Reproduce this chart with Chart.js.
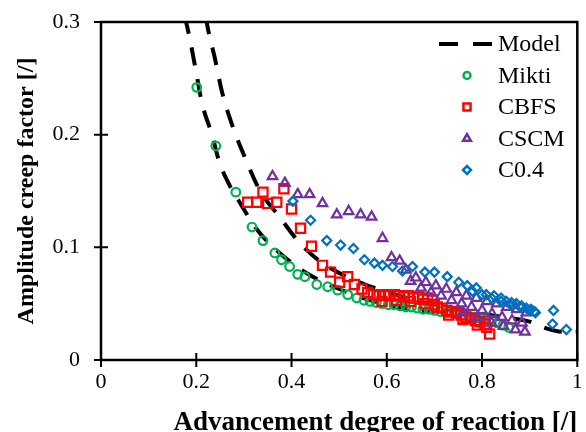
<!DOCTYPE html>
<html>
<head>
<meta charset="utf-8">
<script src="https://cdn.jsdelivr.net/npm/chart.js@4.4.1/dist/chart.umd.min.js"></script>
<style>
  body { margin: 0; background: #fff; }
  #wrap { width: 586px; height: 432px; position: relative; }
</style>
</head>
<body>
<div id="wrap"><canvas id="myChart"></canvas></div>
<script>
// model curve: lower branch, gap (null), upper branch
const modelX = [0.176, 0.187, 0.200, 0.212, 0.233, 0.249, 0.270, 0.291, 0.327, 0.375, 0.432, 0.500, 0.600, 0.700,
  0.70,
  0.220, 0.224, 0.239, 0.254, 0.275, 0.302, 0.333, 0.375, 0.417, 0.465, 0.543, 0.669, 0.750, 0.830, 0.900, 0.935, 0.970, 1.000];
const modelY = [0.305, 0.284, 0.255, 0.228, 0.200, 0.175, 0.155, 0.140, 0.116, 0.095, 0.077, 0.063, 0.049, 0.042,
  null,
  0.305, 0.295, 0.268, 0.238, 0.209, 0.180, 0.151, 0.127, 0.104, 0.086, 0.069, 0.052, 0.045, 0.039, 0.034, 0.028, 0.025, 0.025];

const miktiX = [0.201, 0.241, 0.283, 0.317, 0.340, 0.365, 0.379, 0.396, 0.413, 0.428, 0.453, 0.476, 0.497, 0.518, 0.537,
  0.552, 0.565, 0.578, 0.590, 0.603, 0.615, 0.628, 0.640, 0.652, 0.664, 0.676, 0.688, 0.700, 0.712, 0.724, 0.736,
  0.748, 0.760, 0.772, 0.784, 0.796, 0.808, 0.820, 0.832, 0.844, 0.856];
const miktiY = [0.242, 0.190, 0.149, 0.118, 0.106, 0.095, 0.089, 0.083, 0.076, 0.074, 0.067, 0.065, 0.062, 0.058, 0.055,
  0.053, 0.052, 0.051, 0.050, 0.049, 0.049, 0.048, 0.047, 0.047, 0.046, 0.045, 0.045, 0.044, 0.043, 0.042, 0.042,
  0.041, 0.040, 0.039, 0.038, 0.037, 0.036, 0.035, 0.033, 0.031, 0.029];

const cbfsX = [0.308, 0.327, 0.340, 0.350, 0.369, 0.384, 0.400, 0.419, 0.442, 0.465, 0.482, 0.501, 0.518, 0.532, 0.548,
  0.560, 0.572, 0.584, 0.596, 0.606, 0.616, 0.626, 0.636, 0.646, 0.656, 0.666, 0.676, 0.686, 0.696, 0.706, 0.716,
  0.726, 0.736, 0.746, 0.756, 0.766, 0.776, 0.786, 0.796, 0.806, 0.816,
  0.590, 0.620, 0.650, 0.680, 0.700, 0.730, 0.760, 0.790, 0.810];
const cbfsY = [0.140, 0.140, 0.149, 0.139, 0.140, 0.152, 0.134, 0.117, 0.101, 0.084, 0.078, 0.069, 0.074, 0.067, 0.063,
  0.060, 0.058, 0.057, 0.058, 0.057, 0.058, 0.057, 0.056, 0.057, 0.055, 0.056, 0.054, 0.055, 0.053, 0.047, 0.046,
  0.044, 0.043, 0.042, 0.040, 0.038, 0.037, 0.035, 0.034, 0.032, 0.023,
  0.052, 0.053, 0.052, 0.050, 0.049, 0.040, 0.036, 0.031, 0.029];

const cscmX = [0.360, 0.386, 0.413, 0.438, 0.465, 0.495, 0.520, 0.545, 0.568, 0.591, 0.610, 0.627,
  0.640, 0.661, 0.682, 0.703, 0.725, 0.746, 0.767, 0.788, 0.810, 0.831, 0.852, 0.873, 0.893,
  0.650, 0.672, 0.693, 0.714, 0.736, 0.757, 0.778, 0.800, 0.821, 0.842, 0.863, 0.884,
  0.760, 0.790, 0.820, 0.845, 0.870, 0.890];
const cscmY = [0.163, 0.157, 0.147, 0.147, 0.139, 0.129, 0.132, 0.129, 0.127, 0.108, 0.091, 0.088,
  0.080, 0.073, 0.069, 0.066, 0.063, 0.060, 0.057, 0.055, 0.052, 0.050, 0.047, 0.045, 0.042,
  0.070, 0.064, 0.060, 0.057, 0.053, 0.050, 0.047, 0.044, 0.041, 0.038, 0.035, 0.033,
  0.042, 0.038, 0.033, 0.030, 0.027, 0.025];

const c04X = [0.403, 0.440, 0.474, 0.503, 0.530, 0.553, 0.574, 0.591, 0.612, 0.633, 0.654, 0.680, 0.700, 0.727,
  0.751, 0.769, 0.788, 0.809, 0.825, 0.840, 0.851, 0.862, 0.872, 0.883, 0.893, 0.903, 0.910, 0.950, 0.948, 0.977,
  0.780, 0.800, 0.820, 0.840, 0.860, 0.880, 0.900, 0.912];
const c04Y = [0.141, 0.124, 0.106, 0.102, 0.099, 0.089, 0.086, 0.084, 0.083, 0.079, 0.083, 0.078, 0.078, 0.074,
  0.069, 0.066, 0.064, 0.058, 0.057, 0.055, 0.052, 0.051, 0.050, 0.048, 0.046, 0.045, 0.043, 0.044, 0.032, 0.027,
  0.061, 0.058, 0.055, 0.052, 0.049, 0.047, 0.044, 0.042];

const xTickLabels = ["0", "0.2", "0.4", "0.6", "0.8", "1"];
const yTickLabels = ["0", "0.1", "0.2", "0.3"];

const pts = (xs, ys) => xs.map((x, i) => ({ x: x, y: ys[i] }));
const serif = "'Liberation Serif', 'Times New Roman', serif";

// frame, crossing tick marks and legend drawn on top
const framePlugin = {
  id: "frame",
  afterDraw(chart) {
    const { ctx, chartArea: a, scales } = chart;
    ctx.save();
    ctx.strokeStyle = "#000";
    ctx.lineWidth = 2.5;
    ctx.strokeRect(a.left, a.top, a.right - a.left, a.bottom - a.top);
    ctx.lineWidth = 2;
    ctx.beginPath();
    scales.x.ticks.forEach((t) => {
      const px = scales.x.getPixelForValue(t.value);
      ctx.moveTo(px, a.bottom - 7);
      ctx.lineTo(px, a.bottom + 7);
    });
    scales.y.ticks.forEach((t) => {
      const py = scales.y.getPixelForValue(t.value);
      ctx.moveTo(a.left - 7, py);
      ctx.lineTo(a.left + 7, py);
    });
    ctx.stroke();

    // legend
    const lx = 467, tx = 498;
    let ly = 44;
    ctx.font = "24px " + serif;
    ctx.textBaseline = "middle";
    ctx.fillStyle = "#000";
    chart.data.datasets.forEach((ds) => {
      if (ds.showLine) {
        ctx.strokeStyle = ds.borderColor;
        ctx.lineWidth = ds.borderWidth;
        ctx.setLineDash([19, 15]);
        ctx.beginPath();
        ctx.moveTo(439, ly);
        ctx.lineTo(492, ly);
        ctx.stroke();
        ctx.setLineDash([]);
      } else {
        ctx.strokeStyle = ds.borderColor;
        ctx.fillStyle = "rgba(0,0,0,0)";
        ctx.lineWidth = 2.5;
        Chart.helpers.drawPoint(ctx, { pointStyle: ds.pointStyle, radius: ds.legendRadius, rotation: 0, borderWidth: 2.5 }, lx, ly);
        ctx.fillStyle = "#000";
      }
      ctx.fillText(ds.label, tx, ly + 1);
      ly += 31.5;
    });
    ctx.restore();
  },
};

new Chart(document.getElementById("myChart"), {
  type: "scatter",
  data: {
    datasets: [
      {
        label: "Model",
        data: pts(modelX, modelY),
        showLine: true,
        spanGaps: false,
        borderColor: "#000",
        borderWidth: 4,
        borderDash: [18, 14],
        cubicInterpolationMode: "monotone",
        pointRadius: 0,
        order: 5,
      },
      {
        label: "Mikti",
        data: pts(miktiX, miktiY),
        pointStyle: "circle",
        pointRadius: 4.3,
        legendRadius: 3.5,
        borderColor: "#00B050",
        backgroundColor: "rgba(0,0,0,0)",
        borderWidth: 2.2,
        order: 4,
      },
      {
        label: "CBFS",
        data: pts(cbfsX, cbfsY),
        pointStyle: "rect",
        pointRadius: 6.5,
        legendRadius: 5,
        borderColor: "#FF0000",
        backgroundColor: "rgba(0,0,0,0)",
        borderWidth: 2.2,
        order: 3,
      },
      {
        label: "CSCM",
        data: pts(cscmX, cscmY),
        pointStyle: "triangle",
        pointRadius: 5.5,
        legendRadius: 4.5,
        borderColor: "#7030A0",
        backgroundColor: "rgba(0,0,0,0)",
        borderWidth: 2.2,
        order: 2,
      },
      {
        label: "C0.4",
        data: pts(c04X, c04Y),
        pointStyle: "rectRot",
        pointRadius: 4.5,
        legendRadius: 4,
        borderColor: "#0070C0",
        backgroundColor: "rgba(0,0,0,0)",
        borderWidth: 2.2,
        order: 1,
      },
    ],
  },
  options: {
    responsive: true,
    maintainAspectRatio: false,
    animation: false,
    layout: { padding: { left: 0, right: 8, top: 22, bottom: 0 } },
    plugins: {
      legend: { display: false },
      tooltip: { enabled: false },
    },
    scales: {
      x: {
        type: "linear",
        min: 0,
        max: 1,
        afterFit: (s) => { s.height = 72; },
        grid: { display: true, drawOnChartArea: false, color: "rgba(0,0,0,0)", tickLength: 9 },
        border: { display: false },
        ticks: {
          stepSize: 0.2,
          padding: 0,
          color: "#000",
          font: { family: serif, size: 22 },
          callback: (v, i) => xTickLabels[i],
        },
        title: {
          display: true,
          align: "end",
          text: "Advancement degree of reaction [/]",
          color: "#000",
          font: { family: serif, size: 27, weight: "bold", lineHeight: 0.7 },
          padding: 0,
        },
      },
      y: {
        type: "linear",
        min: 0,
        max: 0.3,
        afterFit: (s) => { s.width = 101; },
        grid: { display: true, drawOnChartArea: false, color: "rgba(0,0,0,0)", tickLength: 21 },
        border: { display: false },
        ticks: {
          stepSize: 0.1,
          padding: 0,
          color: "#000",
          font: { family: serif, size: 22 },
          callback: (v, i) => yTickLabels[i],
        },
        title: {
          display: true,
          text: "Amplitude creep factor [/]",
          color: "#000",
          font: { family: serif, size: 24, weight: "bold", lineHeight: 1.2 },
          padding: { top: 12, bottom: 0 },
        },
      },
    },
  },
  plugins: [framePlugin],
});
</script>
</body>
</html>
